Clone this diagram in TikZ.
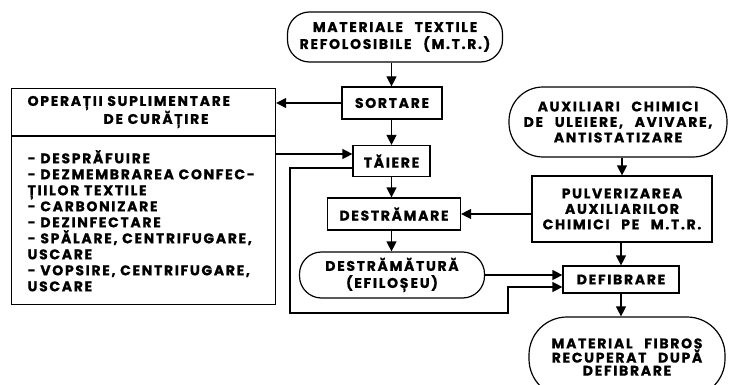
\documentclass[tikz,border=0pt]{standalone}
\usepackage{fontspec}
\setmainfont{Poppins}[LetterSpace=12,WordSpace=2.5,BoldFeatures={FakeBold=0.8}]
\usetikzlibrary{arrows.meta,positioning}

\tikzset{
  box/.style={draw,rectangle,line width=1.2pt,align=center,inner sep=2pt},
  term/.style={box,rounded corners=22pt},
  flow/.style={-{Triangle[length=10pt,width=10pt]},line width=1.2pt},
}

\begin{document}
\begin{tikzpicture}[x=1pt,y=-1pt,font=\bfseries\fontsize{14}{17}\selectfont]
  \useasboundingbox (0,0) rectangle (730,385);

  \node[term,minimum width=215pt,minimum height=50pt]                       (mtr)    at (395,37)    {MATERIALE TEXTILE\\REFOLOSIBILE (M.T.R.)};
  \node[box,minimum width=100pt,minimum height=32pt]                        (sort)   at (392,103)   {SORTARE};
  \node[box,minimum width=77pt,minimum height=31pt]                         (taie)   at (391.5,161) {TĂIERE};
  \node[box,minimum width=133pt,minimum height=32pt]                        (destr)  at (394,214)   {DESTRĂMARE};
  \node[term,minimum width=185pt,minimum height=46pt]                       (efil)   at (392,275)   {DESTRĂMĂTURĂ\\(EFILOȘEU)};
  \node[term,rounded corners=34pt,minimum width=218pt,minimum height=70pt,
        font=\bfseries\fontsize{14}{15.5}\selectfont]                        (aux)    at (618,122)   {AUXILIARI CHIMICI\\DE ULEIERE, AVIVARE,\\ANTISTATIZARE};
  \node[box,minimum width=180pt,minimum height=66pt,
        font=\bfseries\fontsize{14}{15.5}\selectfont]                        (pulv)   at (622,209)   {PULVERIZAREA\\AUXILIARILOR\\CHIMICI PE M.T.R.};
  \node[box,minimum width=116pt,minimum height=27pt]                        (defib)  at (621,279.5) {DEFIBRARE};
  \node[term,rounded corners=38pt,minimum width=196pt,minimum height=80pt,
        font=\bfseries\fontsize{14}{13}\selectfont]                          (fibros) at (627,357)   {MATERIAL FIBROS\\RECUPERAT DUPĂ\\DEFIBRARE};

  \node[box,anchor=north west,minimum height=47pt,text width=232pt,align=left,inner xsep=16pt,
        font=\bfseries\fontsize{14}{18}\selectfont]                          (operhead) at (11,88)
        {OPERAȚII SUPLIMENTARE\\\hspace*{76pt}DE CURĂȚIRE};
  \node[box,anchor=north west,minimum height=168pt,text width=232pt,align=left,inner xsep=16pt,
        font=\bfseries\fontsize{14}{16}\selectfont]                          (operlist) at (operhead.south west)
        {- DESPRĂFUIRE\\\mbox{- DEZMEMBRAREA CONFEC-}\\ȚIILOR TEXTILE\\- CARBONIZARE\\- DEZINFECTARE\\
         \mbox{- SPĂLARE, CENTRIFUGARE,}\\USCARE\\\mbox{- VOPSIRE, CENTRIFUGARE,}\\USCARE};

  \coordinate (loopa) at (290,313);
  \coordinate (loopb) at (508,313);

  \draw[flow] (taie |- mtr.south) -- (taie |- sort.north);
  \draw[flow] (sort.west) -- (sort.west -| operhead.east);
  \draw[flow] (taie |- sort.south) -- (taie.north);
  \draw[flow] ([yshift=7pt]taie.west -| operlist.east) -- ([yshift=7pt]taie.west);
  \draw[flow] (taie.south) -- (taie.south |- destr.north);
  \draw[flow] (destr.south -| taie) -- (efil.north -| taie);
  \draw[flow] (destr.east -| pulv.west) -- (destr.east);
  \draw[flow] (pulv |- aux.south) -- (pulv.north);
  \draw[flow] (pulv.south -| defib) -- (defib.north);
  \draw[flow] (efil.east) -- (efil.east -| defib.west);
  \draw[flow] ([yshift=-7pt]taie.west) -| (loopa) -- (loopb) |- ([yshift=-7.5pt]defib.west);
  \draw[flow] (defib.south) -- (defib.south |- fibros.north);
\end{tikzpicture}
\end{document}
